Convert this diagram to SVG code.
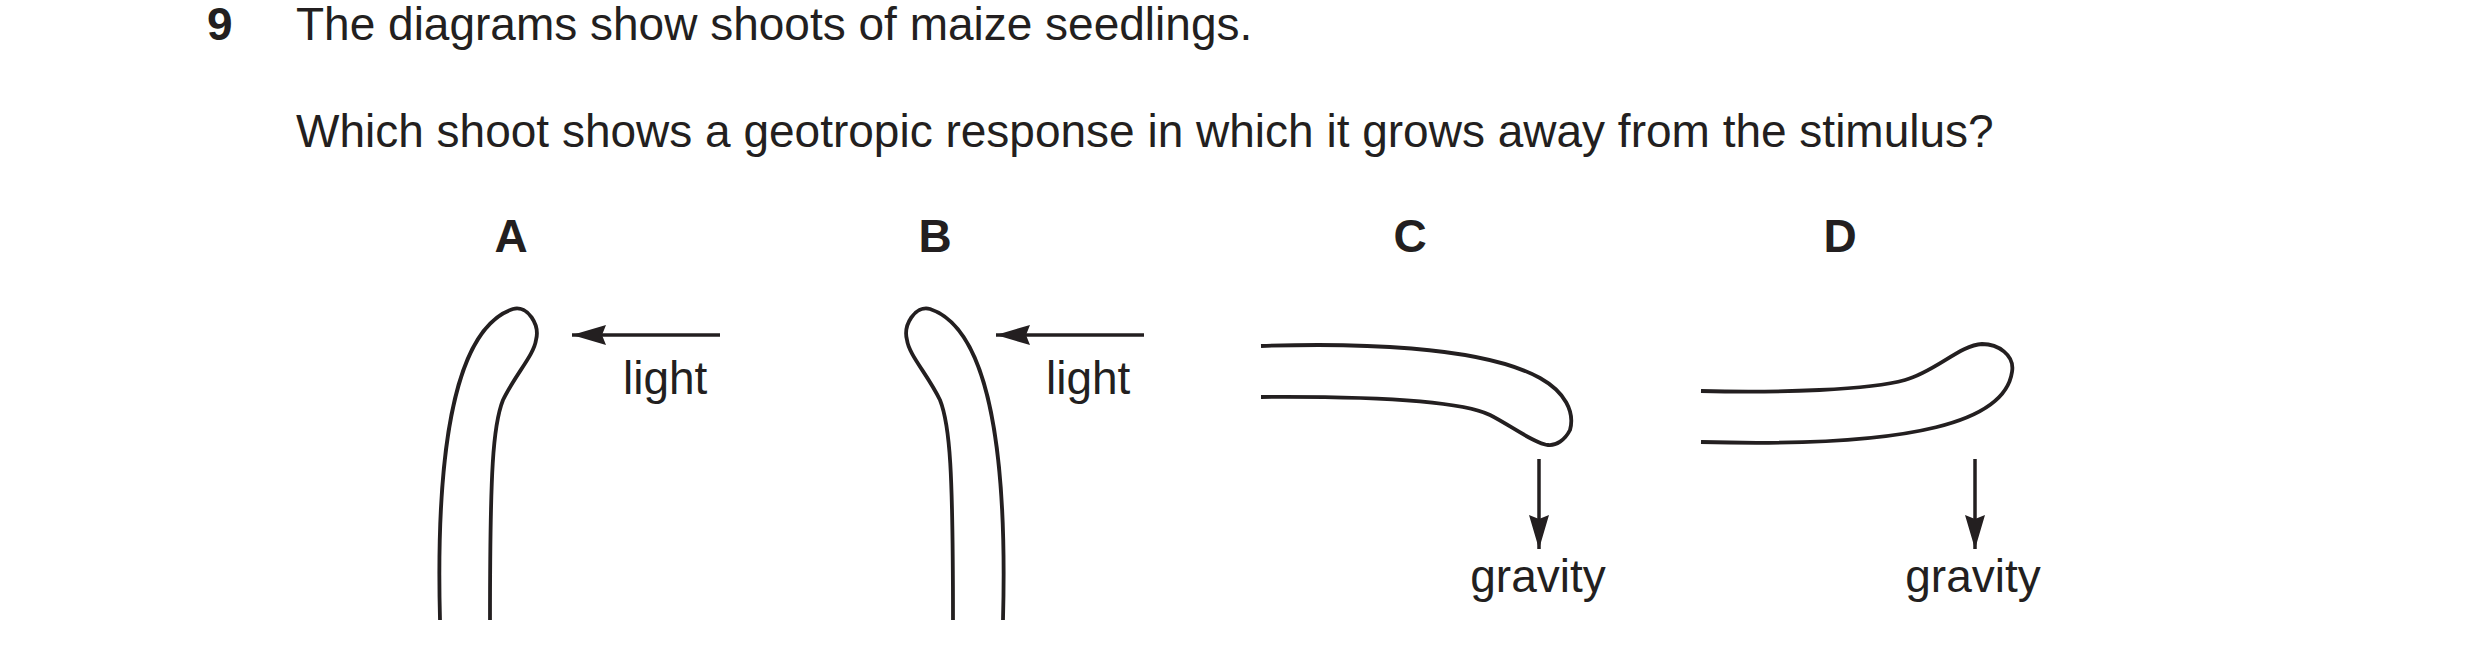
<svg xmlns="http://www.w3.org/2000/svg" width="2480" height="661" viewBox="0 0 2480 661">
<style>
text{font-family:"Liberation Sans",Arial,sans-serif;fill:#231f20}
.q{font-size:46px}
.b{font-weight:bold;font-size:46px}
.lb{font-size:46px}
.s{fill:none;stroke:#231f20;stroke-width:3.8}
.a{stroke:#231f20;stroke-width:3.5}
</style>
<defs>
<marker id="ah" viewBox="0 0 34 20" refX="34" refY="10" markerWidth="34" markerHeight="20" markerUnits="userSpaceOnUse" orient="auto">
<path d="M0,0 L34,10 L0,20 L4,10 Z" fill="#231f20"/>
</marker>
</defs>
<text class="b" x="207" y="40">9</text>
<text class="q" x="296" y="40">The diagrams show shoots of maize seedlings.</text>
<text class="q" x="296" y="147">Which shoot shows a geotropic response in which it grows away from the stimulus?</text>
<g id="A">
<text class="b" x="511" y="252" text-anchor="middle">A</text>
<path class="s" d="M440,620 C436,470 450,330 513,309 C528,305 540,325 536,340 C534,355 515,375 503,400 C493,425 490,470 490,620"/>
<text class="lb" x="623" y="394">light</text>
</g>
<g id="B">
<text class="b" x="935" y="252" text-anchor="middle">B</text>
<path class="s" d="M1003,620 C1007,470 993,330 930,309 C915,305 903,325 907,340 C909,355 928,375 940,400 C950,425 953,470 953,620"/>
<text class="lb" x="1046" y="394">light</text>
</g>
<g id="C">
<text class="b" x="1410" y="252" text-anchor="middle">C</text>
<path class="s" d="M1261,346 C1350,343 1480,345 1540,378 C1565,392 1575,412 1570,430 C1565,440 1556,446 1548,445 C1535,444 1510,425 1490,415 C1465,403 1400,396 1261,397"/>
<text class="lb" x="1538" y="592" text-anchor="middle">gravity</text>
</g>
<g id="D">
<text class="b" x="1840" y="252" text-anchor="middle">D</text>
<path class="s" d="M1701,391 C1780,393 1870,390 1905,380 C1935,372 1960,345 1982,344 C1998,344 2015,355 2012,372 C2005,420 1920,448 1701,442"/>
<text class="lb" x="1973" y="592" text-anchor="middle">gravity</text>
</g>
<g id="connectors">
<line class="a" x1="720" y1="335" x2="572" y2="335" marker-end="url(#ah)"/>
<line class="a" x1="1144" y1="335" x2="996" y2="335" marker-end="url(#ah)"/>
<line class="a" x1="1539" y1="459" x2="1539" y2="549" marker-end="url(#ah)"/>
<line class="a" x1="1975" y1="459" x2="1975" y2="549" marker-end="url(#ah)"/>
</g>
</svg>
